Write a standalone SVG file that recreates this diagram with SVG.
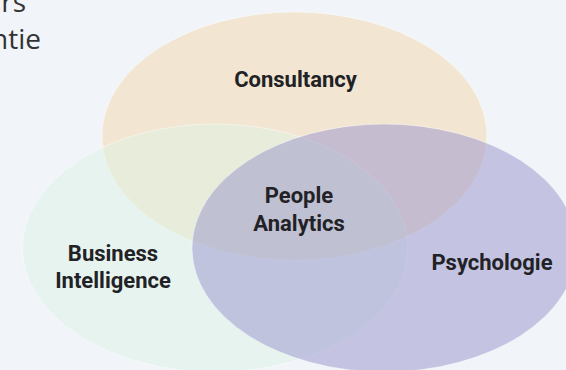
<svg xmlns="http://www.w3.org/2000/svg" width="566" height="370" viewBox="0 0 566 370">
<style>
.set{stroke:#ffffff;stroke-opacity:0.45;stroke-width:1;fill-opacity:0.5}
.lbl{font-family:Roboto,"Liberation Sans",Arial,sans-serif;font-weight:700;font-size:22px;fill:#222226;text-anchor:middle}
.cut{font-family:"Open Sans","Noto Sans","Liberation Sans",sans-serif;font-size:28px;fill:#333333;text-anchor:end}
</style>
<rect x="0" y="0" width="566" height="370" fill="#f1f5f9"/>
<text class="cut" x="26" y="12">rs</text>
<text class="cut" x="41" y="49">ntie</text>
<g id="consultancy">
<ellipse class="set" cx="294.5" cy="136" rx="192.5" ry="124" fill="#f3d7ab"/>
</g>
<g id="business-intelligence">
<ellipse class="set" cx="215" cy="248" rx="192.5" ry="124" fill="#ddf1e3"/>
</g>
<g id="psychologie">
<ellipse class="set" cx="384.5" cy="248" rx="192.5" ry="124" fill="#9793cb"/>
</g>
<g id="labels">
<text class="lbl" x="295.5" y="87">Consultancy</text>
<text class="lbl" x="299" y="203">People</text>
<text class="lbl" x="299" y="231">Analytics</text>
<text class="lbl" x="113" y="261">Business</text>
<text class="lbl" x="113" y="288">Intelligence</text>
<text class="lbl" x="492" y="270">Psychologie</text>
</g>
</svg>
